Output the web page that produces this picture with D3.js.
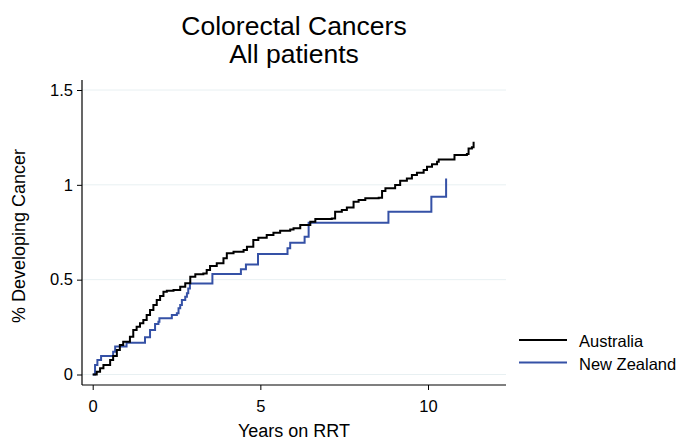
<!DOCTYPE html>
<html>
<head>
<meta charset="utf-8">
<script src="https://cdn.jsdelivr.net/npm/d3@7"></script>
<style>
  html, body { margin: 0; padding: 0; background: #fff; }
  svg { display: block; font-family: "Liberation Sans", Arial, sans-serif; }
</style>
</head>
<body>
<svg id="chart" width="680" height="441"></svg>
<script>
// ---- data ----
const titleLines = ["Colorectal Cancers", "All patients"];
const xTicks = [0, 5, 10];
const yTicks = [0, 0.5, 1, 1.5];
const yTickLabels = ["0", "0.5", "1", "1.5"];
const seriesNames = ["Australia", "New Zealand"];
const seriesColors = ["#000000", "#3551a6"];

const ausYears = [0, 0.12, 0.22, 0.32, 0.52, 0.61, 0.72, 0.81, 0.91, 1.11, 1.21, 1.31, 1.41, 1.51, 1.61, 1.71, 1.81, 1.91, 2.01, 2.11, 2.21, 2.41, 2.61, 2.76, 2.91, 3.06, 3.30, 3.40, 3.50, 3.70, 3.90, 4.00, 4.20, 4.50, 4.60, 4.79, 4.94, 5.19, 5.39, 5.59, 5.89, 5.99, 6.19, 6.49, 6.64, 7.13, 7.23, 7.43, 7.58, 7.78, 7.93, 8.13, 8.53, 8.63, 8.73, 8.93, 9.02, 9.17, 9.37, 9.52, 9.67, 9.87, 9.97, 10.12, 10.27, 10.32, 10.76, 10.79, 11.16, 11.21, 11.31, 11.36];
const ausPct   = [0, 0.015, 0.033, 0.050, 0.076, 0.098, 0.129, 0.156, 0.173, 0.199, 0.235, 0.252, 0.270, 0.287, 0.314, 0.340, 0.366, 0.393, 0.414, 0.436, 0.442, 0.445, 0.463, 0.481, 0.516, 0.528, 0.533, 0.551, 0.572, 0.586, 0.613, 0.639, 0.647, 0.656, 0.674, 0.709, 0.721, 0.735, 0.747, 0.758, 0.765, 0.771, 0.788, 0.805, 0.820, 0.823, 0.858, 0.867, 0.881, 0.911, 0.920, 0.929, 0.932, 0.967, 0.982, 0.982, 0.999, 1.022, 1.034, 1.052, 1.064, 1.078, 1.095, 1.108, 1.122, 1.134, 1.134, 1.157, 1.162, 1.192, 1.198, 1.227];

const nzYears = [0, 0.07, 0.14, 0.25, 0.61, 0.67, 1.01, 1.56, 1.71, 1.86, 1.96, 1.99, 2.36, 2.51, 2.56, 2.61, 2.66, 2.76, 2.81, 2.85, 2.90, 3.57, 4.42, 4.57, 4.93, 5.81, 5.89, 6.32, 6.44, 8.82, 10.10, 10.54];
const nzPct   = [0, 0.050, 0.076, 0.098, 0.120, 0.147, 0.168, 0.196, 0.235, 0.266, 0.278, 0.296, 0.314, 0.323, 0.349, 0.366, 0.393, 0.410, 0.428, 0.454, 0.480, 0.530, 0.555, 0.580, 0.635, 0.665, 0.695, 0.726, 0.800, 0.858, 0.937, 1.034];

// ---- layout ----
const svg = d3.select("#chart");
const plot = { left: 82, right: 506, top: 80, bottom: 385 };
const FONT = "'Liberation Sans', Arial, sans-serif";

const x = d3.scaleLinear().domain([0, 10]).range([92.7, 428]);
const y = d3.scaleLinear().domain([0, 1.5]).range([374.5, 90]);

// gridlines
svg.append("g").selectAll("line").data(yTicks).join("line")
  .attr("x1", plot.left).attr("x2", plot.right)
  .attr("y1", d => y(d)).attr("y2", d => y(d))
  .attr("stroke", "#e8f0f2").attr("stroke-width", 1);

// y axis
const yAxis = d3.axisLeft(y).tickValues(yTicks)
  .tickFormat((d, i) => yTickLabels[i]).tickSize(5).tickSizeOuter(0).tickPadding(4);
const gy = svg.append("g").attr("transform", `translate(${plot.left},0)`).call(yAxis);
gy.select(".domain").remove();
gy.append("line").attr("x1", 0).attr("x2", 0).attr("y1", plot.top).attr("y2", plot.bottom)
  .attr("stroke", "#000").attr("stroke-width", 1.2);
gy.selectAll(".tick line").attr("stroke", "#000");
gy.selectAll(".tick text").attr("font-size", 16.5).attr("fill", "#000").attr("font-family", FONT);

// x axis
const xAxis = d3.axisBottom(x).tickValues(xTicks).tickSize(5).tickSizeOuter(0).tickPadding(10);
const gx = svg.append("g").attr("transform", `translate(0,${plot.bottom})`).call(xAxis);
gx.select(".domain").remove();
gx.append("line").attr("x1", plot.left).attr("x2", plot.right).attr("y1", 0).attr("y2", 0)
  .attr("stroke", "#000").attr("stroke-width", 1.2);
gx.selectAll(".tick line").attr("stroke", "#000");
gx.selectAll(".tick text").attr("font-size", 16.5).attr("fill", "#000").attr("font-family", FONT);

// series
const line = d3.line().x(d => x(d[0])).y(d => y(d[1])).curve(d3.curveStepAfter);
const ausData = ausYears.map((t, i) => [t, ausPct[i]]);
const nzData = nzYears.map((t, i) => [t, nzPct[i]]);

svg.append("path").datum(nzData).attr("d", line)
  .attr("fill", "none").attr("stroke", seriesColors[1]).attr("stroke-width", 2);
svg.append("path").datum(ausData).attr("d", line)
  .attr("fill", "none").attr("stroke", seriesColors[0]).attr("stroke-width", 2);

// titles
const cx = (plot.left + plot.right) / 2;
svg.append("text").attr("x", cx).attr("y", 35).attr("text-anchor", "middle")
  .attr("font-size", 26.5).text(titleLines[0]);
svg.append("text").attr("x", cx).attr("y", 63).attr("text-anchor", "middle")
  .attr("font-size", 26.5).text(titleLines[1]);

svg.append("text").attr("x", cx).attr("y", 437).attr("text-anchor", "middle")
  .attr("font-size", 18).text("Years on RRT");
svg.append("text").attr("transform", `translate(25,236) rotate(-90)`)
  .attr("text-anchor", "middle").attr("font-size", 18).text("% Developing Cancer");

// legend
const legend = svg.append("g");
seriesNames.forEach((name, i) => {
  const ly = 340 + i * 22.5;
  legend.append("line").attr("x1", 519).attr("x2", 567).attr("y1", ly).attr("y2", ly)
    .attr("stroke", seriesColors[i]).attr("stroke-width", 2);
  legend.append("text").attr("x", 579).attr("y", ly + 7).attr("font-size", 16.5).text(name);
});
</script>
</body>
</html>
